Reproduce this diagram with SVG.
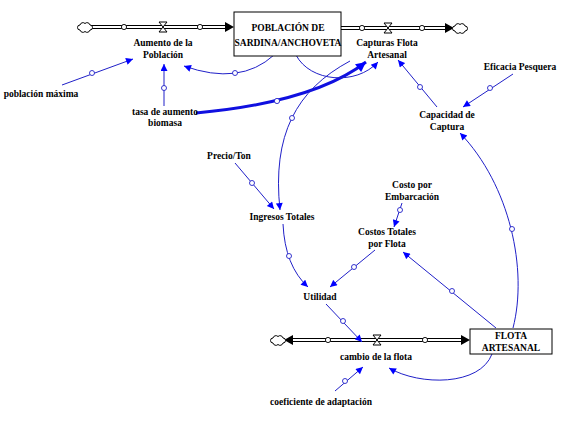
<svg xmlns="http://www.w3.org/2000/svg" xmlns:xlink="http://www.w3.org/1999/xlink" width="563" height="428" viewBox="0 0 563 428" font-family="'Liberation Serif','Times New Roman',serif">
<style>
text{font-family:"Liberation Serif","Times New Roman",serif;font-size:9.5px;font-weight:bold;fill:#000;text-anchor:middle}
.lk{fill:none;stroke:#2020c8;stroke-width:1;marker-end:url(#ab)}
.thick{fill:none;stroke:#1010e0;stroke-width:3;marker-end:url(#abt)}
.dot{fill:#fff;stroke:#2020c8;stroke-width:0.9}
.pdot{fill:#fff;stroke:#000;stroke-width:0.9}
.po{stroke:#000;stroke-width:4;fill:none}
.pi{stroke:#fff;stroke-width:2;fill:none}
.box{fill:#fff;stroke:#000;stroke-width:1}
.valve{fill:#fff;stroke:#000;stroke-width:1}
.cloud{fill:#fff;stroke:#000;stroke-width:1}
.ph{fill:#000}
</style>
<defs>
<marker id="ab" viewBox="0 0 10 10" refX="10" refY="5" markerWidth="9" markerHeight="7" orient="auto" markerUnits="userSpaceOnUse"><path d="M0,0 L10,5 L0,10 z" fill="#0000ff"/></marker>
<marker id="abt" viewBox="0 0 10 10" refX="10" refY="5" markerWidth="15" markerHeight="10" orient="auto" markerUnits="userSpaceOnUse"><path d="M0,0 L10,5 L0,10 z" fill="#0000ff"/></marker>
<path id="cl" d="M-5,3 a2.5,2.5 0 0 1 0,-5 a3,3 0 0 1 5,-1.5 a3,3 0 0 1 5,1.5 a2.5,2.5 0 0 1 0,5 a3,3 0 0 1 -5,1.5 a3,3 0 0 1 -5,-1.5 z"/>
</defs>
<rect width="563" height="428" fill="#fff"/>

<g id="connectors">
  <!-- pipes -->
  <path class="po" d="M91,27 H226"/><path class="pi" d="M91,27 H227"/>
  <path class="ph" d="M225,22 L234,27 L225,32 z"/>
  <path class="po" d="M341,28 H446"/><path class="pi" d="M340,28 H447"/>
  <path class="ph" d="M445,23 L454,28 L445,33 z"/>
  <path class="po" d="M292,340 H462"/><path class="pi" d="M291,340 H463"/>
  <path class="ph" d="M293,335 L284,340 L293,345 z"/>
  <path class="ph" d="M461,335 L470,340 L461,345 z"/>
  <circle class="pdot" cx="124" cy="27" r="2.6"/>
  <circle class="pdot" cx="200" cy="27" r="2.6"/>
  <circle class="pdot" cx="362" cy="28" r="2.6"/>
  <circle class="pdot" cx="422" cy="28" r="2.6"/>
  <circle class="pdot" cx="328" cy="340" r="2.6"/>
  <circle class="pdot" cx="425" cy="340" r="2.6"/>

  <!-- links -->
  <path class="lk" d="M62,85 L133,59"/><circle class="dot" cx="92" cy="73" r="2.5"/>
  <path class="lk" d="M164,106 L164,64"/><circle class="dot" cx="164" cy="88" r="2.5"/>
  <path class="lk" d="M274,55 Q240,86 184,66"/><circle class="dot" cx="235" cy="73" r="2.5"/>
  <path class="thick" d="M196,113 C250,108 322,96 366,62"/><circle class="dot" cx="277" cy="101" r="2.6"/>
  <path class="lk" d="M296,55 C310,82 356,86 378,62"/>
  <path class="lk" d="M350,61 C296,90 272,135 280,210"/><circle class="dot" cx="292" cy="118" r="2.5"/>
  <path class="lk" d="M437,107 L398,60"/><circle class="dot" cx="420" cy="87" r="2.5"/>
  <path class="lk" d="M513,74 L463,107"/><circle class="dot" cx="490" cy="88" r="2.5"/>
  <path class="lk" d="M513,328 C528,270 510,185 460,133"/><circle class="dot" cx="512" cy="229" r="2.5"/>
  <path class="lk" d="M235,163 L274,209"/><circle class="dot" cx="252" cy="183" r="2.5"/>
  <path class="lk" d="M402,203 L394,227"/><circle class="dot" cx="400" cy="210" r="2.5"/>
  <path class="lk" d="M283,224 Q285,266 308,287"/><circle class="dot" cx="289" cy="256" r="2.5"/>
  <path class="lk" d="M375,250 L330,287"/><circle class="dot" cx="354" cy="267" r="2.5"/>
  <path class="lk" d="M496,328 L403,252"/><circle class="dot" cx="452" cy="291" r="2.5"/>
  <path class="lk" d="M326,304 L362,342"/><circle class="dot" cx="343" cy="321" r="2.5"/>
  <path class="lk" d="M335,391 L363,367"/><circle class="dot" cx="345" cy="381" r="2.5"/>
  <path class="lk" d="M492,354 C480,386 420,386 389,368"/>
</g>

<g id="cloud-poblacion-in"><use xlink:href="#cl" href="#cl" class="cloud" x="85" y="27"/></g>
<g id="cloud-capturas-out"><use xlink:href="#cl" href="#cl" class="cloud" x="460" y="28"/></g>
<g id="cloud-flota"><use xlink:href="#cl" href="#cl" class="cloud" x="278" y="340"/></g>

<g id="aumento-poblacion">
  <path class="valve" d="M159,22 H167 L159,32 H167 Z"/>
  <text x="163" y="46">Aumento de la</text>
  <text x="163" y="58">Población</text>
</g>
<g id="poblacion">
  <rect class="box" x="234" y="12" width="107" height="44"/>
  <text x="288" y="31">POBLACIÓN DE</text>
  <text x="288" y="46">SARDINA/ANCHOVETA</text>
</g>
<g id="capturas">
  <path class="valve" d="M384,23 H392 L384,33 H392 Z"/>
  <text x="387" y="46">Capturas Flota</text>
  <text x="387" y="58">Artesanal</text>
</g>
<g id="poblacion-maxima"><text x="41" y="97">población máxima</text></g>
<g id="tasa-aumento">
  <text x="165" y="115">tasa de aumento</text>
  <text x="165" y="126">biomasa</text>
</g>
<g id="eficacia"><text x="520" y="70">Eficacia Pesquera</text></g>
<g id="capacidad">
  <text x="447" y="118">Capacidad de</text>
  <text x="447" y="130">Captura</text>
</g>
<g id="precio"><text x="229" y="159">Precio/Ton</text></g>
<g id="costo-embarcacion">
  <text x="412" y="188">Costo por</text>
  <text x="412" y="200">Embarcación</text>
</g>
<g id="ingresos"><text x="282" y="220">Ingresos Totales</text></g>
<g id="costos-totales">
  <text x="387" y="235">Costos Totales</text>
  <text x="387" y="247">por Flota</text>
</g>
<g id="utilidad"><text x="320" y="300">Utilidad</text></g>
<g id="flota">
  <rect class="box" x="470" y="329" width="82" height="25"/>
  <text x="511" y="339">FLOTA</text>
  <text x="511" y="351">ARTESANAL</text>
</g>
<g id="cambio-flota">
  <path class="valve" d="M373,335 H381 L373,345 H381 Z"/>
  <text x="376" y="360">cambio de la flota</text>
</g>
<g id="coeficiente"><text x="321" y="405">coeficiente de adaptación</text></g>
</svg>
